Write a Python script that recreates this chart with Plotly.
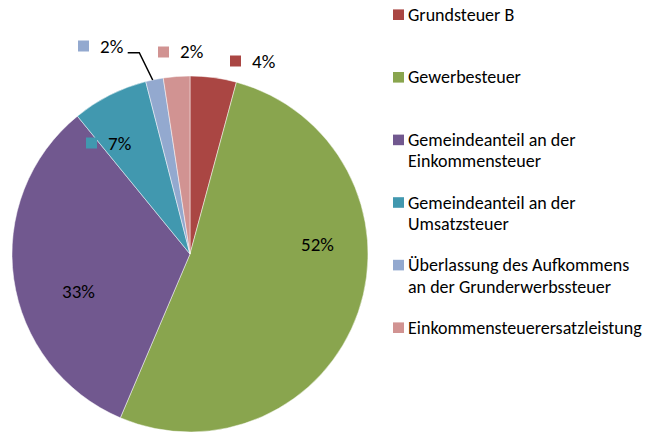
import plotly.graph_objects as go

# ---- data ----
categories = [
    "Grundsteuer B",
    "Gewerbesteuer",
    "Gemeindeanteil an der<br>Einkommensteuer",
    "Gemeindeanteil an der<br>Umsatzsteuer",
    "Überlassung des Aufkommens<br>an der Grunderwerbssteuer",
    "Einkommensteuerersatzleistung",
]
values = [4.2, 52.2, 32.7, 6.9, 1.6, 2.4]
colors = ["#AA4643", "#89A54E", "#71588F", "#4198AF", "#93A9CF", "#D19392"]

# ---- layout helpers (pixels) ----
W, H = 652, 433
FONT = "Carlito, Lato, sans-serif"
FS = 19
FS_LEG = 18

def px(x):
    return x / W

def py(y):
    return 1 - y / H

# label positions for each slice: (square left x, centre y) in pixels
label_pos = [(230, 61), (None, 244), (None, 291), (86, 143), (78, 46), (158, 52)]
text_center = {1: 317, 2: 78}

total = sum(values)
pct_text = [f"{v / total * 100:.0f}%" for v in values]

fig = go.Figure()
fig.add_trace(go.Pie(
    labels=[c.replace("<br>", " ") for c in categories],
    values=values,
    marker=dict(colors=colors, line=dict(color="rgba(255,255,255,0.6)", width=0.8)),
    sort=False,
    direction="clockwise",
    rotation=0,
    textinfo="none",
    hoverinfo="label+percent",
    showlegend=False,
    domain=dict(x=[px(12), px(368)], y=[py(432), py(76)]),
))

annotations = []
shapes = []

# data labels
for i, (sx, cy) in enumerate(label_pos):
    if sx is None:
        annotations.append(dict(x=px(text_center[i]), y=py(cy), xref="paper", yref="paper",
                                text=pct_text[i], showarrow=False, xanchor="center", yanchor="middle",
                                font=dict(family=FONT, size=FS, color="#000000")))
    else:
        shapes.append(dict(type="rect", xref="paper", yref="paper",
                           x0=px(sx), x1=px(sx + 11), y0=py(cy - 5.5), y1=py(cy + 5.5),
                           fillcolor=colors[i], line=dict(width=0)))
        annotations.append(dict(x=px(sx + 20), y=py(cy), xref="paper", yref="paper",
                                text=pct_text[i], showarrow=False, xanchor="left", yanchor="middle",
                                font=dict(family=FONT, size=FS, color="#000000")))

# leader line for the small Überlassung slice
shapes.append(dict(type="path", xref="paper", yref="paper",
                   path=f"M {px(127.7)} {py(52.7)} L {px(139.3)} {py(52.7)} L {px(152.7)} {py(80)}",
                   line=dict(color="#000000", width=1.5)))

# legend
leg_y0, leg_gap, line_gap = 14.7, 62.6, 21.5
for i, cat in enumerate(categories):
    cy = leg_y0 + i * leg_gap
    shapes.append(dict(type="rect", xref="paper", yref="paper",
                       x0=px(393), x1=px(404), y0=py(cy - 5.3), y1=py(cy + 5.3),
                       fillcolor=colors[i], line=dict(width=0)))
    for j, line in enumerate(cat.split("<br>")):
        annotations.append(dict(x=px(406), y=py(cy + j * line_gap), xref="paper", yref="paper",
                                text=line, showarrow=False, xanchor="left", yanchor="middle",
                                font=dict(family=FONT, size=FS_LEG, color="#000000")))

fig.update_layout(
    width=W, height=H,
    margin=dict(l=0, r=0, t=0, b=0),
    paper_bgcolor="white",
    plot_bgcolor="white",
    annotations=annotations,
    shapes=shapes,
)

fig.write_html("out.html", config={"displayModeBar": False},
               post_script="document.body.style.margin='0';document.body.style.overflow='hidden';")
